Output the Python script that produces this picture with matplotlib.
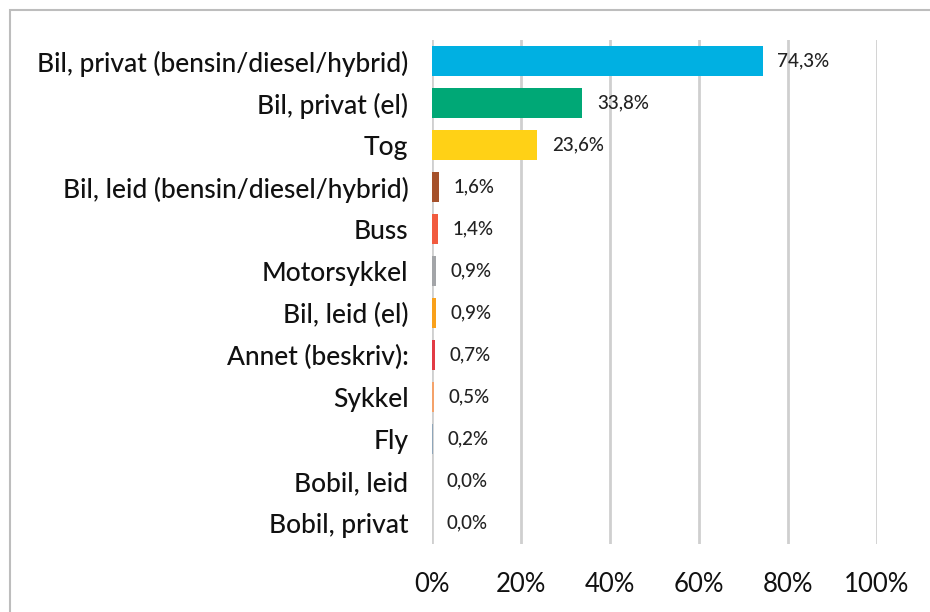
import matplotlib
matplotlib.use("Agg")
import matplotlib.pyplot as plt
from matplotlib.patches import Rectangle

categories = ["Bil, privat (bensin/diesel/hybrid)", "Bil, privat (el)", "Tog",
              "Bil, leid (bensin/diesel/hybrid)", "Buss", "Motorsykkel",
              "Bil, leid (el)", "Annet (beskriv):", "Sykkel", "Fly",
              "Bobil, leid", "Bobil, privat"]
values = [74.3, 33.8, 23.6, 1.6, 1.4, 0.9, 0.9, 0.7, 0.5, 0.2, 0.0, 0.0]
labels = ["74,3%", "33,8%", "23,6%", "1,6%", "1,4%", "0,9%", "0,9%", "0,7%",
          "0,5%", "0,2%", "0,0%", "0,0%"]
colors = ["#00B0E2", "#00A876", "#FFD116", "#A5512B", "#F15A3E", "#A3A5A8",
          "#F9A11B", "#E23B45", "#F4A26A", "#8FA6BA", "#C0C0C0", "#C0C0C0"]
xticks = [0, 20, 40, 60, 80, 100]
xticklabels = ["0%", "20%", "40%", "60%", "80%", "100%"]

plt.rcParams['font.family'] = ['Lato', 'DejaVu Sans']

fig = plt.figure(figsize=(9.3, 6.12), dpi=100)
fig.patches.append(Rectangle((10/930, -0.1), 1.2, (612 - 10)/612 + 0.1,
                             transform=fig.transFigure, fill=False,
                             edgecolor="#BDBDBD", linewidth=1.5))
ax = fig.add_axes([432/930, 1 - 544/612, (877 - 432)/930, (544 - 40)/612])

y = list(range(len(categories)))
ax.barh(y, values, height=0.7, color=colors, zorder=3)
for yi, v, lab in zip(y, values, labels):
    ax.text(v + 3.3, yi, lab, va="center", ha="left", fontsize=13.5,
            color="#222222", fontweight="medium")

ax.set_xlim(0, 100)
ax.set_ylim(len(categories) - 0.5, -0.5)
ax.set_yticks(y)
ax.set_yticklabels(categories, fontsize=19, color="#111111", fontweight="medium")
ax.set_xticks(xticks)
ax.set_xticklabels(xticklabels, fontsize=18.5, color="#111111")
ax.tick_params(axis="both", length=0)
ax.tick_params(axis="y", pad=17)
ax.tick_params(axis="x", pad=20)
ax.grid(axis="x", color="#CFCFCF", linewidth=2, zorder=0)
for s in ax.spines.values():
    s.set_visible(False)

fig.savefig("out.png", dpi=100)
